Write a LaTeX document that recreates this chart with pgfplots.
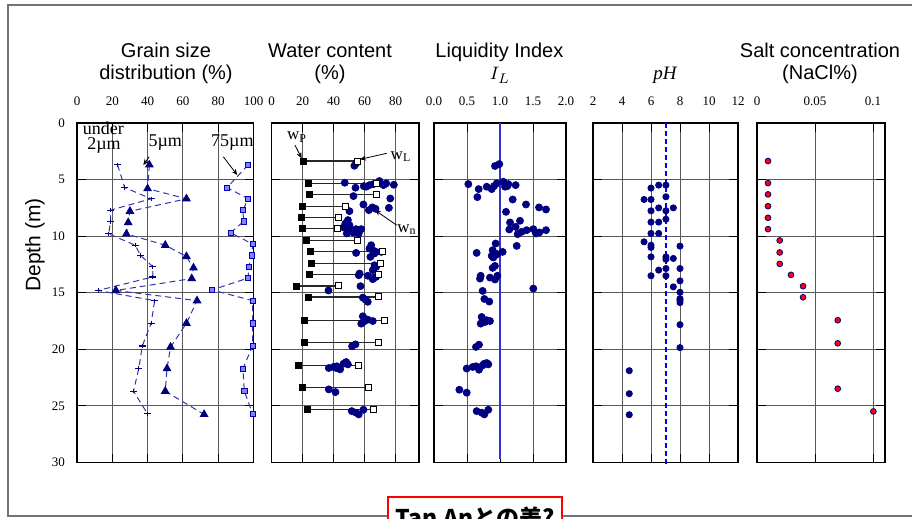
\documentclass[border=0pt]{standalone}
\usepackage{pgfplots}
\pgfplotsset{compat=1.18}
\usepackage{pgfplotstable}
\usepackage{fontspec}
\setmainfont{Liberation Serif}
\newfontfamily\sans{Liberation Sans}
\newfontfamily\cjk{Noto Sans CJK JP}
\usetikzlibrary{arrows.meta}

\definecolor{navy}{RGB}{0,0,128}
\definecolor{dblue}{RGB}{51,51,170}
\definecolor{lblue}{RGB}{130,130,255}
\definecolor{liline}{RGB}{51,51,204}
\definecolor{phline}{RGB}{0,0,255}

\pgfdeclareplotmark{hplus}{%
  \pgfpathmoveto{\pgfqpoint{-\pgfplotmarksize}{0pt}}%
  \pgfpathlineto{\pgfqpoint{\pgfplotmarksize}{0pt}}%
  \pgfpathmoveto{\pgfqpoint{0pt}{0.6\pgfplotmarksize}}%
  \pgfpathlineto{\pgfqpoint{0pt}{-0.6\pgfplotmarksize}}%
  \pgfusepathqstroke}

\pgfplotsset{
  panel/.style={
    scale only axis, anchor=north west, height=169.75pt,
    y dir=reverse, ymin=0, ymax=30, ytick={0,5,...,30},
    xticklabel pos=top, grid=major,
    major grid style={black!65, line width=0.5pt},
    axis line style={black, line width=0.9pt},
    tick style={black, line width=0.5pt},
    tick align=inside,
    tick label style={font=\fontsize{6.5}{7}\selectfont},
    xticklabel style={yshift=5pt},
    yticklabel style={xshift=-2.5pt},
    /pgf/number format/assume math mode=true,
    clip=false,
  },
  noy/.style={yticklabels={}},
}

\pgfplotstableread{
d wp wl
3.36 20.8 55.6
5.34 23.6 67.8
6.31 24.5 67.4
7.4 20 47.6
8.38 19.1 43.1
9.35 20 42.5
10.35 22.7 55.2
11.39 25.1 71.3
12.42 26 70.4
13.4 24.5 68.7
14.4 16.3 43.3
15.37 23.6 69.1
17.43 21.5 72.6
19.4 21 69.1
21.42 17.4 56.2
23.4 20 62.2
25.34 23 65.9
}\wtab

\begin{document}
\begin{tikzpicture}
% outer frame
\draw[black!55, line width=0.9pt] (470pt,257pt) -- (4pt,257pt) -- (4pt,1.5pt) -- (470pt,1.5pt);

% titles
\node[font=\sans\fontsize{10}{12}\selectfont, anchor=base] at (83pt,230.5pt) {Grain size};
\node[font=\sans\fontsize{10}{12}\selectfont, anchor=base] at (83pt,219.5pt) {distribution (\%)};
\node[font=\sans\fontsize{10}{12}\selectfont, anchor=base] at (165pt,230.5pt) {Water content};
\node[font=\sans\fontsize{10}{12}\selectfont, anchor=base] at (165pt,219.5pt) {(\%)};
\node[font=\sans\fontsize{10}{12}\selectfont, anchor=base] at (249.7pt,230.5pt) {Liquidity Index};
\node[font=\fontsize{9.5}{11}\selectfont, anchor=base] at (250pt,219.5pt) {$I_L$};
\node[font=\fontsize{9.5}{11}\selectfont, anchor=base] at (332.5pt,219.5pt) {\itshape pH};
\node[font=\sans\fontsize{10}{12}\selectfont, anchor=base] at (410pt,230.5pt) {Salt concentration};
\node[font=\sans\fontsize{10}{12}\selectfont, anchor=base] at (410pt,219.5pt) {(NaCl\%)};
\node[font=\sans\fontsize{10.5}{12}\selectfont, rotate=90] at (17.5pt,137pt) {Depth (m)};

% ---------------- Grain size ----------------
\begin{axis}[panel, at={(38.5pt,198pt)}, width=88.25pt,
  xmin=0, xmax=100, xtick={0,20,...,100}]
\addplot[dblue, densely dashed, line width=0.5pt, mark=hplus, mark size=1.8pt, mark options={solid, navy, line width=0.6pt}] coordinates {
(23,3.7) (27,5.7) (42,6.7) (19,7.7) (19,8.7) (18,9.8) (33,10.8) (36,11.7) (43,12.7) (43,13.6) (12,14.8) (44,15.7) (42,17.7) (37,19.7) (35,21.7) (32,23.7) (40,25.7)};
\addplot[dblue, densely dashed, line width=0.5pt, mark=triangle*, mark size=2.1pt, mark options={solid, fill=navy, draw=navy}] coordinates {
(41,3.7) (40,5.8) (62,6.7) (30,7.8) (29,8.8) (28,9.8) (50,10.8) (62,11.8) (66,12.8) (65,13.75) (22,14.8) (68,15.7) (62,17.7) (53,19.8) (51,21.7) (50,23.7) (72,25.75)};
\addplot[dblue, densely dashed, line width=0.5pt, mark=square*, mark size=1.3pt, mark options={solid, fill=lblue, draw=blue!70!black, line width=0.4pt}] coordinates {
(97,3.7) (85,5.7) (97,6.7) (94,7.7) (94.4,8.7) (87,9.7) (99.5,10.7) (99,11.7) (97.3,12.7) (97,13.7) (76.5,14.75) (99.5,15.7) (99.5,17.7) (99.5,19.7) (94,21.7) (94.8,23.7) (99.5,25.7)};
\node[font=\fontsize{9}{10}\selectfont, anchor=base, inner sep=0pt] at (axis cs:15,1.0) {under};
\node[font=\fontsize{9}{10}\selectfont, anchor=base, inner sep=0pt] at (axis cs:15.3,2.35) {2\textmu m};
\node[font=\fontsize{9}{10}\selectfont, anchor=base, inner sep=0pt] at (axis cs:50,2.04) {5\textmu m};
\node[font=\fontsize{9}{10}\selectfont, anchor=base, inner sep=0pt] at (axis cs:88,2.04) {75\textmu m};
\draw[-{Stealth[length=3pt,width=2.5pt]}, line width=0.4pt] (axis cs:40.9,2.98) -- (axis cs:37.6,3.72);
\draw[-{Stealth[length=3pt,width=2.5pt]}, line width=0.4pt] (axis cs:82.9,2.98) -- (axis cs:90.8,4.6);
\end{axis}

% ---------------- Water content ----------------
\begin{axis}[panel, noy, at={(135.75pt,198pt)}, width=73.75pt,
  xmin=0, xmax=95, xtick={0,20,...,80}]
\addplot[black!85, line width=0.6pt, unbounded coords=jump] coordinates {
(20.8,3.36) (55.6,3.36) (nan,nan)
(23.6,5.34) (67.8,5.34) (nan,nan)
(24.5,6.31) (67.4,6.31) (nan,nan)
(20,7.4) (47.6,7.4) (nan,nan)
(19.1,8.38) (43.1,8.38) (nan,nan)
(20,9.35) (42.5,9.35) (nan,nan)
(22.7,10.35) (55.2,10.35) (nan,nan)
(25.1,11.39) (71.3,11.39) (nan,nan)
(26,12.42) (70.4,12.42) (nan,nan)
(24.5,13.4) (68.7,13.4) (nan,nan)
(16.3,14.4) (43.3,14.4) (nan,nan)
(23.6,15.37) (69.1,15.37) (nan,nan)
(21.5,17.43) (72.6,17.43) (nan,nan)
(21,19.4) (69.1,19.4) (nan,nan)
(17.4,21.42) (56.2,21.42) (nan,nan)
(20,23.4) (62.2,23.4) (nan,nan)
(23,25.34) (65.9,25.34)};
\addplot[only marks, mark=*, mark size=1.75pt, mark options={fill=navy, draw=navy}] coordinates {
(54.5,3.57) (53.4,3.78) (47.2,5.28) (54.1,5.72) (59.4,5.58) (61,5.63) (63.1,5.49) (65.7,5.4) (69.5,5.13) (72.1,5.49) (73.9,5.34) (78.8,5.46)
(52.8,6.46) (76.5,6.67) (59.2,7.2) (75.6,7.5) (62.7,7.7) (64.9,7.46) (67,7.58) (50.2,7.79) (49.2,8.58)
(47.6,8.88) (50.2,9.03) (46.4,9.23) (49.2,9.32) (51.3,9.47) (54.5,9.38) (57.8,9.38) (48.5,9.76) (52.8,9.7) (56.2,9.76)
(64.2,10.8) (63.1,11.09) (65.2,11.24) (67.4,11.39) (66.3,11.53) (70.7,11.39) (54.5,11.48) (63.7,11.83)
(66.3,12.57) (67.4,12.72) (65.2,13.0) (56.2,13.45) (56.7,13.3) (62,13.5) (65.2,13.8) (67.4,13.6) (57.3,14.42) (36.7,14.8)
(58.8,15.43) (60.5,15.6) (62,15.8)
(58.8,17.08) (59.9,17.29) (62,17.38) (65.2,17.5) (57.8,17.73) (59.2,17.58) (60.5,17.43)
(51.9,19.73) (54.1,19.56)
(36.9,21.65) (39.9,21.56) (42,21.5) (44.2,21.77) (46.4,21.27) (48.1,21.12) (49.2,21.33) (41.7,21.65)
(36.9,23.54) (41.2,23.78)
(51.7,25.46) (54.5,25.6) (56.2,25.75) (59.2,25.34)};
\addplot[only marks, mark=square*, mark size=1.5pt, mark options={fill=black, draw=black}] table[x=wp, y=d] {\wtab};
\addplot[only marks, mark=square*, mark size=1.5pt, mark options={fill=white, draw=black, line width=0.5pt}] table[x=wl, y=d] {\wtab};
\node[font=\fontsize{8.5}{9}\selectfont] at (axis cs:16.4,1.24) {w\textsubscript{P}};
\node[font=\fontsize{8.5}{9}\selectfont] at (axis cs:83.4,3.0) {w\textsubscript{L}};
\node[font=\fontsize{8.5}{9}\selectfont] at (axis cs:87.2,9.38) {w\textsubscript{n}};
\draw[-{Stealth[length=3pt,width=2.5pt]}, line width=0.4pt] (axis cs:15.1,1.95) -- (axis cs:19.4,3.12);
\draw[-{Stealth[length=3pt,width=2.5pt]}, line width=0.4pt] (axis cs:74.2,2.68) -- (axis cs:57,3.21);
\draw[-{Stealth[length=3pt,width=2.5pt]}, line width=0.4pt] (axis cs:80.6,9.03) -- (axis cs:66.6,7.7);
\end{axis}

% ---------------- Liquidity index ----------------
\begin{axis}[panel, noy, at={(217pt,198pt)}, width=66pt,
  xmin=0, xmax=2, xtick={0,0.5,...,2}, xticklabels={0.0,0.5,1.0,1.5,2.0}]
\addplot[liline, line width=0.8pt] coordinates {(1,0) (1,29.7)};
\addplot[only marks, mark=*, mark size=1.75pt, mark options={fill=navy, draw=navy}] coordinates {
(0.924,3.8) (0.99,3.63) (0.52,5.4) (0.677,5.84) (0.657,6.55) (0.798,5.63) (0.874,5.84) (0.909,5.58) (0.95,5.34) (1.05,5.19) (1.076,5.4) (1.111,5.58) (1.126,5.4) (1.237,5.49) (1.076,5.63)
(1.192,6.76) (1.394,7.2) (1.591,7.46) (1.697,7.64) (1.091,7.85) (1.152,8.79) (1.303,8.64)
(1.141,9.41) (1.237,9.18) (1.268,9.82) (1.328,9.62) (1.404,9.47) (1.505,9.38) (1.545,9.76) (1.596,9.67) (1.697,9.47)
(1.253,10.86) (0.934,10.65) (0.646,11.48) (0.889,11.24) (0.874,11.74) (0.924,11.53) (0.96,11.59) (1.04,11.39) (0.899,11.89)
(0.889,12.8) (0.924,12.63) (0.707,13.5) (0.697,13.75) (0.848,13.66) (0.924,13.83) (0.96,13.5)
(1.505,14.63) (0.737,14.84) (0.763,15.55) (0.838,15.78)
(0.722,17.14) (0.747,17.38) (0.798,17.43) (0.848,17.5) (0.707,17.73) (0.773,17.58)
(0.636,19.79) (0.682,19.59)
(0.495,21.7) (0.586,21.56) (0.636,21.5) (0.682,21.8) (0.763,21.27) (0.798,21.21) (0.823,21.33) (0.737,21.42)
(0.384,23.57) (0.495,23.83)
(0.646,25.46) (0.722,25.6) (0.763,25.75) (0.823,25.34)};
\end{axis}

% ---------------- pH ----------------
\begin{axis}[panel, noy, at={(296.5pt,198pt)}, width=72.5pt,
  xmin=2, xmax=12, xtick={2,4,...,12}]
\addplot[draw=phline, dash pattern=on 2.5pt off 1.5pt, line width=1pt] coordinates {(7,0) (7,30.3)};
\addplot[only marks, mark=*, mark size=1.55pt, mark options={fill=navy, draw=navy}] coordinates {
(6.0,5.75) (6.53,5.49) (7.03,5.49) (5.52,6.76) (6.0,6.76) (7.03,6.52) (6.0,7.76) (6.53,7.5) (7.03,7.76) (7.54,7.5)
(6.0,8.76) (6.53,8.76) (7.03,8.5) (6.0,9.76) (6.53,9.76) (5.52,10.5) (6.0,10.8) (6.0,11.0) (8.0,10.88)
(6.0,11.83) (7.03,11.83) (7.03,12.04) (7.54,11.97) (7.03,12.86) (8.0,12.86) (6.53,13.0) (6.0,13.5) (7.03,13.5)
(8.0,13.95) (7.54,14.48) (8.0,14.96) (8.0,15.52) (8.0,15.66) (8.0,15.87) (8.0,17.82) (8.0,19.85)
(4.5,21.89) (4.5,23.92) (4.5,25.78)};
\end{axis}

% ---------------- Salt ----------------
\begin{axis}[panel, noy, at={(378.5pt,198pt)}, width=63.8pt,
  xmin=0, xmax=0.11, xtick={0,0.05,0.1}, xticklabels={0,0.05,0.1}]
\addplot[only marks, mark=*, mark size=1.45pt, mark options={fill=red, draw=navy, line width=0.4pt}] coordinates {
(0.0095,3.36) (0.0095,5.31) (0.0095,6.31) (0.0095,7.35) (0.0095,8.38) (0.0095,9.38)
(0.0196,10.38) (0.0196,11.44) (0.0196,12.45) (0.0293,13.42) (0.0397,14.42) (0.0397,15.4)
(0.0696,17.43) (0.0696,19.47) (0.0696,23.48) (0.1003,25.49)};
\end{axis}

% red box
\draw[red, line width=0.6pt, fill=white] (194pt,-12pt) rectangle (281pt,11pt);
\node[font=\cjk\bfseries\fontsize{11.5}{13}\selectfont, anchor=base] at (237.5pt,-4pt) {Tan Anとの差?};

\pgfresetboundingbox
\path[use as bounding box] (0pt,0pt) rectangle (456pt,259.5pt);
\end{tikzpicture}
\end{document}
